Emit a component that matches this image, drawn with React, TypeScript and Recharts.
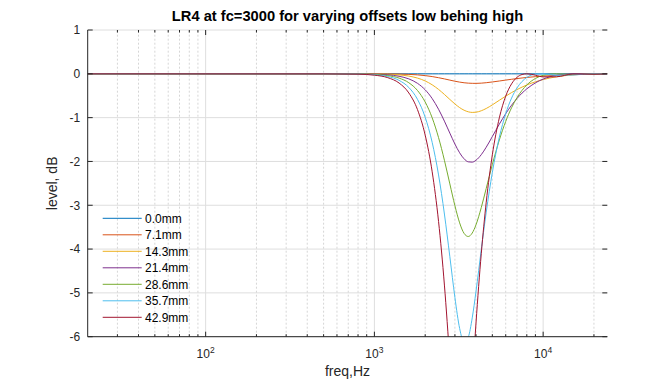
import React from 'react';
import { LineChart, Line, XAxis, YAxis, CartesianGrid, ReferenceLine, Legend } from 'recharts';

// ---------- data ----------
const freqs = [20, 500, 800, 1000, 1200, 1400, 1600, 1800, 2000, 2200, 2400, 2600, 2800, 3000, 3200, 3400, 3600, 3800, 4000, 4300, 4600, 5000, 5500, 6000, 6500, 7000, 7500, 8000, 9000, 10000, 12000, 15000, 20000, 24000];

const off00 = [0, 0, 0, 0, 0, 0, 0, 0, 0, 0, 0, 0, 0, 0, 0, 0, 0, 0, 0, 0, 0, 0, 0, 0, 0, 0, 0, 0, 0, 0, 0, 0, 0, 0];
const off07 = [0, 0, 0, -0.001, -0.003, -0.006, -0.013, -0.024, -0.041, -0.063, -0.089, -0.116, -0.144, -0.169, -0.189, -0.204, -0.213, -0.217, -0.218, -0.213, -0.203, -0.186, -0.164, -0.143, -0.125, -0.109, -0.095, -0.083, -0.065, -0.052, -0.034, -0.019, -0.008, -0.004];
const off14 = [0, 0, -0.001, -0.004, -0.010, -0.025, -0.052, -0.097, -0.163, -0.251, -0.356, -0.471, -0.585, -0.688, -0.771, -0.831, -0.867, -0.881, -0.876, -0.843, -0.791, -0.709, -0.604, -0.510, -0.428, -0.360, -0.303, -0.255, -0.182, -0.131, -0.068, -0.024, -0.002, 0];
const off21 = [0, 0, -0.002, -0.008, -0.023, -0.056, -0.116, -0.217, -0.365, -0.565, -0.809, -1.080, -1.354, -1.603, -1.803, -1.940, -2.009, -2.016, -1.973, -1.845, -1.675, -1.432, -1.149, -0.910, -0.717, -0.563, -0.440, -0.344, -0.206, -0.120, -0.034, -0.001, -0.004, -0.004];
const off28 = [0, 0, -0.004, -0.014, -0.041, -0.098, -0.204, -0.380, -0.644, -1.004, -1.456, -1.974, -2.513, -3.010, -3.402, -3.642, -3.713, -3.634, -3.446, -3.051, -2.614, -2.070, -1.510, -1.087, -0.774, -0.544, -0.377, -0.255, -0.106, -0.035, 0, -0.014, -0.007, 0];
const off35 = [0, 0, -0.006, -0.022, -0.062, -0.149, -0.312, -0.582, -0.992, -1.565, -2.308, -3.200, -4.175, -5.105, -5.811, -6.126, -6.010, -5.571, -4.968, -4.012, -3.158, -2.251, -1.447, -0.910, -0.554, -0.322, -0.174, -0.083, -0.008, -0.002, -0.034, -0.027, -0.001, -0.004];
const off42 = [0, -0.001, -0.008, -0.031, -0.088, -0.210, -0.437, -0.816, -1.400, -2.236, -3.370, -4.822, -6.555, -8.343, -9.571, -9.533, -8.432, -7.013, -5.692, -4.099, -2.930, -1.849, -1.005, -0.510, -0.229, -0.081, -0.016, 0, -0.031, -0.070, -0.068, -0.004, -0.009, 0];

const seriesNames = ['0.0mm', '7.1mm', '14.3mm', '21.4mm', '28.6mm', '35.7mm', '42.9mm'];
const seriesValues = [off00, off07, off14, off21, off28, off35, off42];
const seriesColors = ['#0072BD', '#D95319', '#EDB120', '#7E2F8E', '#77AC30', '#4DBEEE', '#A2142F'];

const majorXTicks = [100, 1000, 10000];
const minorXTicks = [30, 40, 50, 60, 70, 80, 90, 200, 300, 400, 500, 600, 700, 800, 900, 2000, 3000, 4000, 5000, 6000, 7000, 8000, 9000, 20000];
const xTickExponents: Record<number, string> = { 100: '2', 1000: '3', 10000: '4' };
const yTicks = [-6, -5, -4, -3, -2, -1, 0, 1];

const rows = freqs.map((f, i) => {
  const r: Record<string, number> = { f };
  seriesValues.forEach((vals, k) => {
    r['s' + k] = vals[i];
  });
  return r;
});

// ---------- layout ----------
const W = 672;
const H = 384;
const PLOT_LEFT = 87.7;
const PLOT_RIGHT = 607.3;
const PLOT_TOP = 30;
const PLOT_BOTTOM = 336.7;
const FONT = '"Liberation Sans", Arial, Helvetica, sans-serif';
const AXIS_COLOR = '#262626';

const XTick = (props: any) => {
  const { x, payload } = props;
  const v = payload.value;
  const isMajor = majorXTicks.includes(v);
  const len = isMajor ? 5 : 2.5;
  return (
    <g>
      <line x1={x} x2={x} y1={PLOT_BOTTOM} y2={PLOT_BOTTOM - len} stroke={AXIS_COLOR} strokeWidth={1} />
      <line x1={x} x2={x} y1={PLOT_TOP} y2={PLOT_TOP + len} stroke={AXIS_COLOR} strokeWidth={1} />
      {isMajor && (
        <text x={x} y={PLOT_BOTTOM + 21} textAnchor="middle" fontFamily={FONT} fontSize={12} fill={AXIS_COLOR}>
          <tspan>10</tspan>
          <tspan dy={-5} fontSize={8.5}>{xTickExponents[v]}</tspan>
        </text>
      )}
    </g>
  );
};

const YTick = (props: any) => {
  const { y, payload } = props;
  return (
    <g>
      <line x1={PLOT_LEFT} x2={PLOT_LEFT + 5} y1={y} y2={y} stroke={AXIS_COLOR} strokeWidth={1} />
      <line x1={PLOT_RIGHT - 5} x2={PLOT_RIGHT} y1={y} y2={y} stroke={AXIS_COLOR} strokeWidth={1} />
      <text x={PLOT_LEFT - 7.5} y={y} dy="0.36em" textAnchor="end" fontFamily={FONT} fontSize={12} fill={AXIS_COLOR}>
        {payload.value}
      </text>
    </g>
  );
};

const renderLegend = (props: any) => {
  const items = [...(props.payload || [])].sort(
    (a: any, b: any) => seriesNames.indexOf(a.value) - seriesNames.indexOf(b.value)
  );
  return (
    <svg width={110} height={125} style={{ display: 'block' }}>
      {items.map((it: any, i: number) => {
        const cy = 10.3 + i * 16.5;
        return (
          <g key={it.value}>
            <line x1={2.7} x2={41.7} y1={cy} y2={cy} stroke={it.color} strokeWidth={1} />
            <text x={45} y={cy} dy="0.36em" fontFamily={FONT} fontSize={12} fill="#000">
              {it.value}
            </text>
          </g>
        );
      })}
    </svg>
  );
};

export default function App() {
  const allXTicks = [...minorXTicks, ...majorXTicks].sort((a, b) => a - b);
  return (
    <div style={{ position: 'absolute', left: 0, top: 0, width: W, height: H, background: '#fff' }}>
      <LineChart
        width={W}
        height={H}
        data={rows}
        margin={{ top: PLOT_TOP, right: W - PLOT_RIGHT, bottom: 0, left: 0 }}
      >
        <CartesianGrid horizontal vertical={false} stroke="#dedede" />
        {minorXTicks.map((v) => (
          <ReferenceLine key={'m' + v} x={v} stroke="#d6d6d6" strokeDasharray="2 2" strokeWidth={1} />
        ))}
        {majorXTicks.map((v) => (
          <ReferenceLine key={'M' + v} x={v} stroke="#dedede" strokeWidth={1} />
        ))}
        <XAxis
          dataKey="f"
          type="number"
          scale="log"
          domain={[20, 24000]}
          allowDataOverflow
          ticks={allXTicks}
          interval={0}
          tick={(p: any) => <XTick {...p} />}
          tickLine={false}
          axisLine={{ stroke: AXIS_COLOR }}
          height={H - PLOT_BOTTOM}
        />
        <XAxis
          xAxisId="top"
          orientation="top"
          type="number"
          scale="log"
          domain={[20, 24000]}
          allowDataOverflow
          height={0}
          tick={false}
          tickLine={false}
          axisLine={{ stroke: AXIS_COLOR }}
        />
        <YAxis
          type="number"
          domain={[-6, 1]}
          allowDataOverflow
          ticks={yTicks}
          interval={0}
          tick={(p: any) => <YTick {...p} />}
          tickLine={false}
          axisLine={{ stroke: AXIS_COLOR }}
          width={PLOT_LEFT}
        />
        <YAxis
          yAxisId="right"
          orientation="right"
          type="number"
          domain={[-6, 1]}
          allowDataOverflow
          width={0}
          tick={false}
          tickLine={false}
          axisLine={{ stroke: AXIS_COLOR }}
        />
        {seriesNames.map((name, k) => (
          <Line
            key={name}
            type="monotone"
            dataKey={'s' + k}
            name={name}
            stroke={seriesColors[k]}
            strokeWidth={1}
            dot={false}
            activeDot={false}
            isAnimationActive={false}
          />
        ))}
        <Legend
          layout="vertical"
          align="center"
          verticalAlign="middle"
          content={renderLegend}
          wrapperStyle={{ left: 100, top: 208, width: 110, height: 125 }}
        />
      </LineChart>
      <svg width={W} height={H} style={{ position: 'absolute', left: 0, top: 0, pointerEvents: 'none' }}>
        <text x={(PLOT_LEFT + PLOT_RIGHT) / 2} y={20.7} textAnchor="middle" fontFamily={FONT} fontSize={14.7} fontWeight="bold" fill="#000">
          LR4 at fc=3000 for varying offsets low behing high
        </text>
        <text x={(PLOT_LEFT + PLOT_RIGHT) / 2} y={376} textAnchor="middle" fontFamily={FONT} fontSize={14} fill={AXIS_COLOR}>
          freq,Hz
        </text>
        <text
          x={57}
          y={(PLOT_TOP + PLOT_BOTTOM) / 2}
          textAnchor="middle"
          transform={`rotate(-90 57 ${(PLOT_TOP + PLOT_BOTTOM) / 2})`}
          fontFamily={FONT}
          fontSize={14}
          fill={AXIS_COLOR}
        >
          level, dB
        </text>
      </svg>
    </div>
  );
}
